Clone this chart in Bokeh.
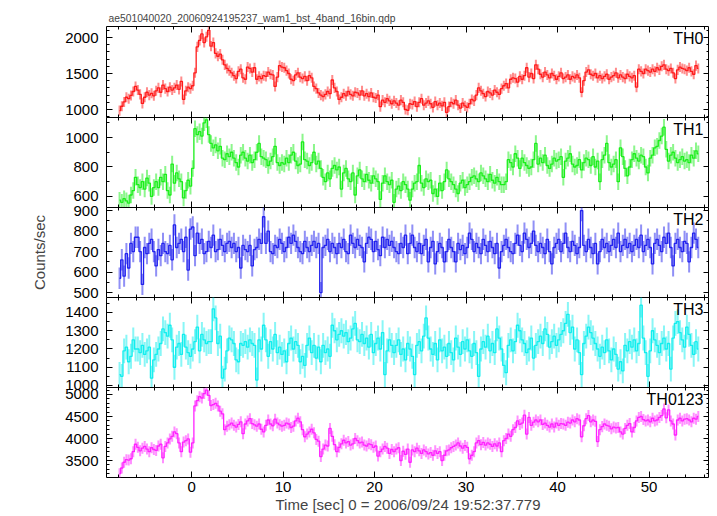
import numpy as np
from bokeh.plotting import figure
from bokeh.models import LinearAxis, SingleIntervalTicker, Range1d, Label, ColumnDataSource
from bokeh.layouts import column
from bokeh.embed import file_html
from bokeh.resources import INLINE

TITLE = "ae501040020_20060924195237_wam1_bst_4band_16bin.qdp"
X_LABEL = "Time [sec] 0 = 2006/09/24 19:52:37.779"
Y_LABEL = "Counts/sec"

# time bins (bin centres start, bin width in seconds)
T_START = -7.875
BIN = 0.25

th0 = [
    985, 1045, 1105, 1170, 1150, 1195, 1250, 1320,
    1270, 1210, 1085, 1170, 1240, 1200, 1225, 1190,
    1260, 1300, 1240, 1340, 1290, 1250, 1310, 1270,
    1300, 1340, 1280, 1390, 1140, 1260, 1310, 1290,
    1330, 1510, 1870, 1960, 2050, 1930, 2010, 2100,
    1880, 1930, 1780, 1740, 1770, 1690, 1620, 1570,
    1540, 1510, 1470, 1430, 1530, 1560, 1440, 1420,
    1590, 1570, 1520, 1580, 1420, 1460, 1430, 1470,
    1460, 1520, 1490, 1480, 1320, 1450, 1610, 1590,
    1580, 1540, 1500, 1420, 1400, 1480, 1510, 1450,
    1430, 1460, 1400, 1470, 1440, 1320, 1290, 1230,
    1200, 1180, 1210, 1250, 1220, 1410, 1300, 1250,
    1140, 1170, 1220, 1190, 1250, 1210, 1190, 1240,
    1230, 1200, 1260, 1190, 1220, 1180, 1230, 1170,
    1160, 1200, 1040, 1130, 1100, 1150, 1120, 1080,
    1120, 1090, 1060, 1130, 1100, 1000, 990, 1080,
    1070, 1110, 1040, 1100, 1150, 1060, 1090, 1120,
    1080, 1030, 1110, 1060, 1090, 1050, 1100, 960,
    1040, 1100, 1080, 1130, 1060, 1020, 1090, 1050,
    1030, 1080, 1140, 1120, 1200, 1300, 1260, 1220,
    1180, 1250, 1230, 1200, 1270, 1240, 1210, 1290,
    1330, 1360, 1300, 1420, 1440, 1430, 1380, 1460,
    1420, 1470, 1580, 1450, 1500, 1430, 1620, 1560,
    1490, 1450, 1520, 1480, 1440, 1500, 1470, 1420,
    1460, 1510, 1430, 1450, 1480, 1420, 1460, 1440,
    1480, 1440, 1240, 1400, 1520, 1550, 1490, 1470,
    1500, 1440, 1470, 1430, 1460, 1490, 1420, 1450,
    1470, 1510, 1440, 1480, 1450, 1430, 1490, 1460,
    1440, 1470, 1310, 1560, 1530, 1500, 1560, 1540,
    1520, 1560, 1530, 1580, 1550, 1600, 1620, 1560,
    1540, 1570, 1510, 1430, 1550, 1590, 1570, 1560,
    1540, 1580, 1530, 1490, 1610, 1570,
]

th1 = [
    575, 560, 585, 570, 555, 610, 640, 730,
    680, 660, 700, 650, 725, 690, 600, 660,
    700, 660, 730, 700, 750, 640, 610, 820,
    690, 760, 720, 700, 590, 640, 710, 670,
    790, 1060, 1020, 1040, 1010, 1100, 1120, 1020,
    960, 930, 950, 910, 940, 860, 850, 890,
    870, 900, 860, 830, 800, 880, 900, 860,
    840, 880, 830, 850, 900, 960, 870, 860,
    850, 810, 840, 870, 940, 830, 810, 830,
    820, 860, 830, 880, 900, 840, 810, 820,
    970, 850, 840, 810, 830, 900, 820, 840,
    790, 730, 700, 760, 720, 790, 810, 780,
    800, 650, 760, 790, 720, 700, 760, 610,
    740, 780, 720, 700, 750, 710, 690, 740,
    720, 700, 580, 690, 740, 700, 680, 710,
    560, 650, 670, 640, 700, 680, 650, 575,
    650, 690, 700, 810, 690, 660, 720, 700,
    710, 620, 650, 600, 690, 640, 700, 780,
    720, 700, 680, 650, 620, 690, 710, 660,
    680, 700, 730, 740, 720, 700, 760, 740,
    720, 700, 750, 710, 690, 730, 700, 680,
    680, 700, 850, 830, 800, 890, 860, 790,
    860, 830, 810, 790, 800, 850, 960, 820,
    860, 830, 880, 810, 790, 820, 860, 840,
    850, 870, 730, 840, 860, 890, 820, 800,
    810, 850, 780, 830, 860, 850, 810, 870,
    800, 840, 700, 850, 880, 960, 830, 800,
    820, 850, 700, 930, 870, 790, 740, 800,
    850, 890, 860, 840, 880, 870, 800, 760,
    860, 880, 930, 940, 980, 1010, 1070, 920,
    840, 880, 900, 860, 830, 850, 870, 840,
    850, 830, 880, 860, 910, 890,
]

th2 = [
    570, 660, 580, 690, 620, 740, 700, 770,
    770, 700, 540, 720, 690, 740, 760, 700,
    630, 710, 680, 740, 700, 690, 730, 660,
    830, 720, 740, 760, 700, 770, 610, 810,
    820, 680, 790, 740, 760, 690, 700, 750,
    720, 780, 700, 710, 760, 730, 700, 740,
    750, 720, 740, 700, 720, 620, 730, 710,
    700, 730, 630, 710, 720, 760, 740, 870,
    740, 800, 700, 690, 730, 720, 760, 740,
    700, 720, 770, 740, 780, 750, 720, 700,
    690, 750, 720, 700, 730, 750, 720, 740,
    500, 720, 730, 760, 700, 740, 720, 690,
    740, 720, 760, 700, 690, 780, 740, 720,
    760, 730, 720, 650, 740, 770, 760, 700,
    750, 710, 680, 770, 720, 760, 730, 750,
    720, 700, 690, 740, 720, 780, 690, 740,
    780, 720, 700, 740, 690, 730, 760, 650,
    720, 750, 640, 700, 740, 720, 650, 700,
    760, 720, 700, 650, 740, 710, 730, 690,
    720, 790, 760, 700, 740, 720, 690, 760,
    730, 700, 750, 720, 690, 740, 620, 700,
    730, 760, 720, 700, 690, 740, 780, 730,
    700, 790, 760, 720, 740, 800, 730, 700,
    740, 720, 690, 760, 700, 640, 720, 740,
    760, 700, 740, 790, 720, 700, 750, 730,
    690, 720, 900, 730, 700, 760, 720, 690,
    740, 640, 700, 760, 720, 740, 700, 730,
    760, 720, 790, 700, 730, 760, 720, 740,
    700, 730, 760, 720, 780, 700, 730, 760,
    720, 640, 740, 760, 730, 700, 770, 740,
    790, 720, 630, 740, 760, 720, 700, 750,
    740, 650, 720, 790, 760, 720,
]

th3 = [
    1060, 1050, 1190, 1210, 1130, 1160, 1250, 1200,
    1200, 1180, 1220, 1170, 1190, 1210, 1040, 1140,
    1170, 1200, 1230, 1310, 1290, 1270, 1330, 1250,
    1100, 1210, 1230, 1170, 1280, 1210, 1180, 1160,
    1200, 1240, 1320, 1190, 1280, 1250, 1230, 1240,
    1240, 1420, 1370, 1230, 1270, 1040, 1090, 1190,
    1260, 1250, 1230, 1140, 1130, 1230, 1220, 1240,
    1210, 1250, 1230, 1220, 1030, 1250, 1200, 1330,
    1250, 1160, 1240, 1200, 1280, 1180, 1210, 1170,
    1190, 1130, 1230, 1260, 1200, 1240, 1220, 1130,
    1160, 1110, 1220, 1260, 1180, 1220, 1150, 1210,
    1130, 1220, 1180, 1200, 1160, 1330, 1300, 1250,
    1280, 1300, 1270, 1290, 1240, 1260, 1310, 1340,
    1250, 1240, 1280, 1230, 1260, 1210, 1280, 1180,
    1230, 1260, 1200, 1290, 1060, 1190, 1250, 1220,
    1180, 1220, 1250, 1170, 1200, 1140, 1230, 1200,
    1160, 1060, 1220, 1240, 1190, 1270, 1370, 1260,
    1200, 1170, 1230, 1140, 1250, 1190, 1210, 1160,
    1230, 1180, 1140, 1260, 1210, 1170, 1240, 1200,
    1250, 1190, 1160, 1230, 1180, 1050, 1200, 1240,
    1210, 1270, 1190, 1230, 1180, 1310, 1260, 1200,
    1110, 1070, 1220, 1250, 1190, 1240, 1330, 1300,
    1250, 1230, 1180, 1200, 1260, 1150, 1220, 1240,
    1270, 1230, 1310, 1280, 1210, 1240, 1270, 1220,
    1250, 1280, 1300, 1340, 1390, 1290, 1320, 1200,
    1250, 1180, 1060, 1230, 1270, 1320, 1290, 1260,
    1230, 1200, 1160, 1210, 1180, 1250, 1190, 1140,
    1200, 1170, 1090, 1130, 1080, 1220, 1190, 1240,
    1210, 1250, 1190, 1230, 1440, 1260, 1180, 1050,
    1190, 1300, 1250, 1220, 1180, 1230, 1260, 1200,
    1230, 1090, 1260, 1340, 1350, 1290, 1250, 1210,
    1320, 1280, 1220, 1170, 1240, 1200,
]

th0123 = [
    3200, 3330, 3460, 3520, 3510, 3540, 3700, 3870,
    3800, 3720, 3780, 3820, 3760, 3700, 3790, 3750,
    3730, 3830, 3870, 3560, 3820, 3900, 3990, 4050,
    4150, 4110, 3900, 3700, 3920, 3950, 3990, 3690,
    3900, 4740, 4860, 4950, 4920, 5020, 5100, 4980,
    4750, 4770, 4800, 4740, 4620, 4560, 4200, 4280,
    4310, 4350, 4300, 4260, 4320, 4380, 4110, 4330,
    4400, 4450, 4340, 4310, 4280, 4330, 4210, 4150,
    4300, 4420, 4330, 4290, 4440, 4350, 4310, 4280,
    4300, 4350, 4330, 4250, 4280, 4400, 4460, 4380,
    4200, 4040, 4100, 4150, 4210, 4130, 3980, 3940,
    3590, 3760, 3850, 3830, 4230, 4050, 3860, 3700,
    3800, 3880, 3960, 3900, 3930, 3850, 3880, 4000,
    3950, 3900, 3920, 3850, 3830, 3880, 3860, 3800,
    3830, 3600, 3700, 3760, 3820, 3780, 3660, 3750,
    3700, 3760, 3790, 3500, 3710, 3640, 3760, 3460,
    3740, 3700, 3780, 3720, 3660, 3740, 3700, 3650,
    3680, 3620, 3720, 3660, 3700, 3500, 3620, 3720,
    3740, 3790, 3820, 3850, 3900, 3830, 3780, 3840,
    3800, 3540, 3620, 3700, 3900, 3950, 3860, 3910,
    3850, 3900, 3870, 3820, 3880, 3830, 3900, 3700,
    3950, 4000, 4100, 4050, 4200, 4250, 4400, 4320,
    4350, 4530, 4100, 4480, 4300, 4370, 4420, 4380,
    4420, 4320, 4350, 4300, 4260, 4330, 4260, 4350,
    4300, 4340, 4330, 4300, 4370, 4350, 4420, 4380,
    4450, 4420, 4040, 4290, 4450, 4520, 4380, 4420,
    4390, 3930, 4200, 4270, 4330, 4300, 4280, 4220,
    4260, 4240, 4250, 4150, 4100, 4230, 4300, 4340,
    4150, 4250, 4400, 4480, 4500, 4430, 4400, 4420,
    4380, 4460, 4400, 4420, 4480, 4520, 4670, 4470,
    4650, 4400, 4330, 4080, 4420, 4460, 4400, 4440,
    4450, 4420, 4380, 4460, 4440, 4500,
]

band_names = ["TH0", "TH1", "TH2", "TH3", "TH0123"]
band_values = [th0, th1, th2, th3, th0123]
band_errors = [70, 56, 52, 68, 125]          # typical 1-sigma error bar half-length
y_limits = [(889, 2153), (525, 1136), (476, 915), (989, 1482), (3114, 5159)]
y_major = [500, 200, 100, 100, 500]
y_minor = [5, 2, 2, 2, 5]
X_LIMITS = (-9.3, 56.6)

line_colors = ["#ff1a1a", "#1aee1a", "#2222ee", "#11eeee", "#ff22ff"]

FONT = "Liberation Sans"
E = 12  # transparent overlap border so edge tick labels are not clipped

xr = Range1d(*X_LIMITS)
figs = []
for i, (name, vals, err) in enumerate(zip(band_names, band_values, band_errors)):
    top = i == 0
    bottom = i == len(band_names) - 1
    frame_h = 91 if top else 90
    bt = 26 if top else E
    bb = 39 if bottom else E
    kw = {}
    if not top:
        kw["styles"] = {"margin-top": f"-{2 * E}px"}
    p = figure(width=709, height=frame_h + bt + bb, x_range=xr,
               y_range=Range1d(*y_limits[i]), output_backend="svg",
               toolbar_location=None, x_axis_location=None, y_axis_location=None,
               min_border_left=106, min_border_right=0, min_border_top=bt,
               min_border_bottom=bb, **kw)
    p.grid.visible = False
    p.outline_line_color = "black"
    p.outline_line_width = 1
    p.background_fill_color = "white"
    p.border_fill_color = "white" if top else None

    v = np.array(vals, dtype=float)
    t = T_START + BIN * np.arange(len(v))
    src = ColumnDataSource(dict(t=t, v=v, lo=v - err, hi=v + err))
    c = line_colors[i]
    p.segment(x0="t", y0="lo", x1="t", y1="hi", source=src,
              line_color=c, line_width=2.0, line_alpha=0.5)
    p.step(x="t", y="v", source=src, mode="center", line_color=c, line_width=1.3)

    xt = lambda: SingleIntervalTicker(interval=10, num_minor_ticks=5)
    yt = lambda: SingleIntervalTicker(interval=y_major[i], num_minor_ticks=y_minor[i])

    def style(ax, labels):
        ax.axis_line_color = None
        ax.major_tick_in = 6
        ax.major_tick_out = 0
        ax.minor_tick_in = 3
        ax.minor_tick_out = 0
        ax.major_tick_line_color = "black"
        ax.minor_tick_line_color = "black"
        if labels:
            ax.major_label_text_font = FONT
            ax.major_label_text_font_size = "15px"
            ax.major_label_text_color = "black"
        else:
            ax.major_label_text_font_size = "1px"
            ax.major_label_text_color = None
            ax.major_label_standoff = 0

    la = LinearAxis(ticker=yt())
    style(la, True)
    la.major_label_standoff = 8
    if i == 2:
        la.axis_label = Y_LABEL
        la.axis_label_text_font = FONT
        la.axis_label_text_font_size = "15px"
        la.axis_label_text_font_style = "normal"
        la.axis_label_standoff = 22
    p.add_layout(la, "left")
    ra = LinearAxis(ticker=yt())
    style(ra, False)
    p.add_layout(ra, "right")

    ta = LinearAxis(ticker=xt())
    style(ta, False)
    p.add_layout(ta, "above")
    ba = LinearAxis(ticker=xt())
    if bottom:
        style(ba, True)
        ba.major_label_standoff = 4
        ba.axis_label = X_LABEL
        ba.axis_label_text_font = FONT
        ba.axis_label_text_font_size = "15px"
        ba.axis_label_text_font_style = "normal"
        ba.axis_label_standoff = 1
    else:
        style(ba, False)
    p.add_layout(ba, "below")

    p.add_layout(Label(x=X_LIMITS[1], y=y_limits[i][1], x_offset=-6, y_offset=-3,
                       text=name, text_align="right", text_baseline="top",
                       text_font=FONT, text_font_size="16px", text_color="black"))

    if top:
        p.title.text = TITLE
        p.title.align = "left"
        p.title.text_font = FONT
        p.title.text_font_size = "10.3px"
        p.title.text_font_style = "normal"
        p.title.standoff = 5
        p.title.offset = 2
    figs.append(p)

layout = column(*figs, spacing=0)
open("out.html", "w").write(file_html(layout, INLINE))
